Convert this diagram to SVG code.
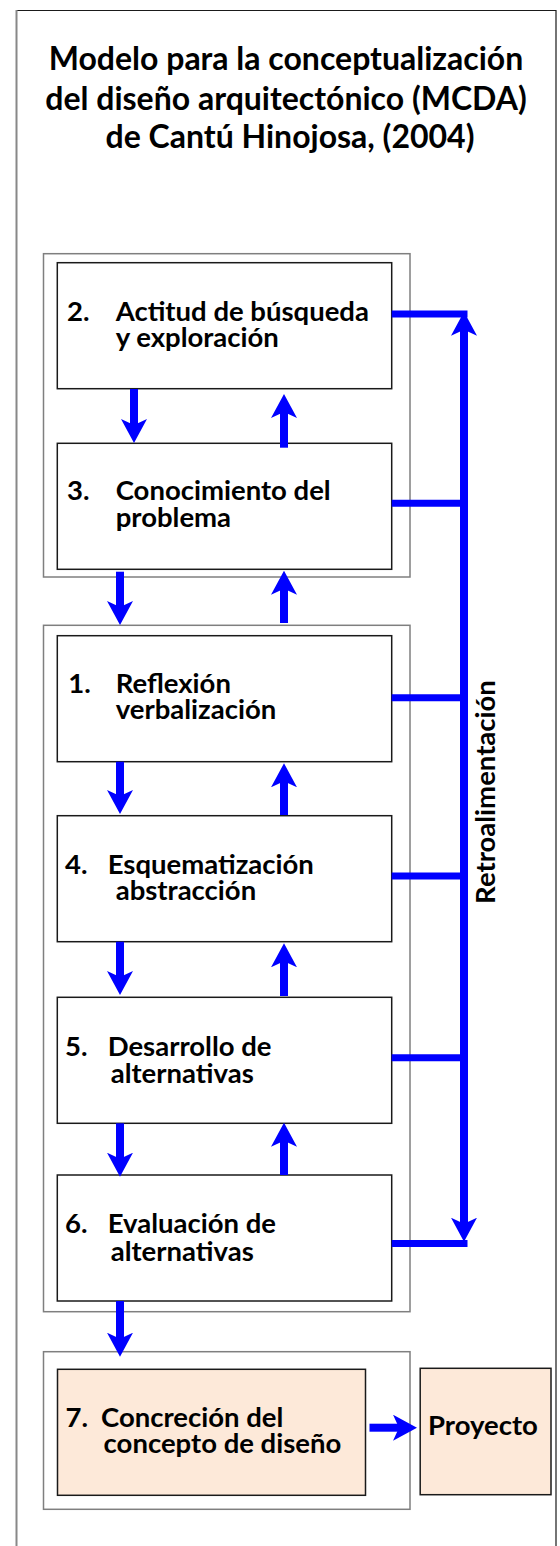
<svg xmlns="http://www.w3.org/2000/svg" width="560" height="1546" viewBox="0 0 560 1546">
<style>
text{font-family:Lato,"Open Sans","Liberation Sans",sans-serif;font-weight:bold;fill:#000}
.title{font-size:32px;text-anchor:middle}
.t{font-size:27.5px}
.grp{fill:none;stroke:#7f7f7f;stroke-width:1.5}
.box{fill:#fff;stroke:#1a1a1a;stroke-width:1.5}
.peach{fill:#fde9d9;stroke:#1a1a1a;stroke-width:1.5}
.arr{stroke:#0000ff;stroke-width:8;fill:none;marker-end:url(#ah)}
.br{stroke:#0000ff;stroke-width:7;fill:none}
</style>
<defs>
<marker id="ah" markerUnits="userSpaceOnUse" viewBox="0 0 24 26" markerWidth="24" markerHeight="26" refX="8" refY="13" orient="auto-start-reverse">
<path d="M0,0 L24,13 L0,26 L6,13 Z" fill="#0000ff"/>
</marker>
</defs>
<rect width="560" height="1546" fill="#fff"/>
<g id="frame">
<path d="M16.5,10.5 H556 V1546" fill="none" stroke="#1a1a1a" stroke-width="1.2"/>
<path d="M16.5,10 V1546" fill="none" stroke="#888" stroke-width="2"/>
</g>
<g id="title">
<text class="title"><tspan x="286" y="70">Modelo para la conceptualización</tspan><tspan x="286" y="109.5">del diseño arquitectónico (MCDA)</tspan><tspan x="290" y="148">de Cantú Hinojosa, (2004)</tspan></text>
</g>
<g id="groups">
<rect id="group-a" class="grp" x="43.5" y="253.7" width="366.5" height="323.3"/>
<rect id="group-b" class="grp" x="43.5" y="625.3" width="366.5" height="686.4"/>
<rect id="group-c" class="grp" x="43.5" y="1351.7" width="366.5" height="157.6"/>
</g>
<g id="node-2">
<rect class="box" x="57.3" y="262.7" width="334.4" height="126"/>
<text class="t"><tspan x="67" y="320.7">2.</tspan><tspan x="115.7" y="320.7">Actitud de búsqueda</tspan><tspan x="115.7" y="346.7">y exploración</tspan></text>
</g>
<g id="node-3">
<rect class="box" x="57.3" y="443.3" width="334.4" height="126"/>
<text class="t"><tspan x="67" y="500">3.</tspan><tspan x="115.7" y="500">Conocimiento del</tspan><tspan x="115.7" y="526.7">problema</tspan></text>
</g>
<g id="node-1">
<rect class="box" x="57.3" y="635.7" width="334.4" height="126"/>
<text class="t"><tspan x="68.3" y="692.7">1.</tspan><tspan x="115.7" y="692.7">Reflexión</tspan><tspan x="115.7" y="719.3">verbalización</tspan></text>
</g>
<g id="node-4">
<rect class="box" x="57.3" y="815.7" width="334.4" height="126"/>
<text class="t"><tspan x="65" y="874">4.</tspan><tspan x="107.7" y="874">Esquematización</tspan><tspan x="115.7" y="899.5">abstracción</tspan></text>
</g>
<g id="node-5">
<rect class="box" x="57.3" y="997.3" width="334.4" height="126"/>
<text class="t"><tspan x="65" y="1055.7">5.</tspan><tspan x="107.7" y="1055.7">Desarrollo de</tspan><tspan x="110.7" y="1082.7">alternativas</tspan></text>
</g>
<g id="node-6">
<rect class="box" x="57.3" y="1175" width="334.4" height="126"/>
<text class="t"><tspan x="65" y="1233.3">6.</tspan><tspan x="107.7" y="1233.3">Evaluación de</tspan><tspan x="110.7" y="1260.7">alternativas</tspan></text>
</g>
<g id="node-7">
<rect class="peach" x="57.5" y="1369.3" width="308" height="126"/>
<text class="t"><tspan x="65.5" y="1426.7">7.</tspan><tspan x="101" y="1426.7">Concreción del</tspan><tspan x="103.6" y="1453.3">concepto de diseño</tspan></text>
</g>
<g id="node-proyecto">
<rect class="peach" x="420.2" y="1368.3" width="130.8" height="126.4"/>
<text class="t" x="428" y="1435">Proyecto</text>
</g>
<g id="connectors">
<line class="arr" x1="134" y1="389" x2="134" y2="427"/>
<line class="arr" x1="284" y1="447.7" x2="284" y2="410"/>
<line class="arr" x1="120" y1="571.7" x2="120" y2="609"/>
<line class="arr" x1="284" y1="623" x2="284" y2="586.7"/>
<line class="arr" x1="120" y1="761.7" x2="120" y2="798"/>
<line class="arr" x1="284" y1="815" x2="284" y2="779.3"/>
<line class="arr" x1="120" y1="941.7" x2="120" y2="979"/>
<line class="arr" x1="284" y1="996" x2="284" y2="959.3"/>
<line class="arr" x1="120" y1="1123.3" x2="120" y2="1160.7"/>
<line class="arr" x1="284" y1="1175" x2="284" y2="1138.7"/>
<line class="arr" x1="120" y1="1301" x2="120" y2="1340.7"/>
<line class="arr" x1="369.5" y1="1427.7" x2="401" y2="1427.7"/>
<path class="br" d="M391.7,314 H467.5 M391.7,503.3 H464 M391.7,697.7 H464 M391.7,876 H464 M391.7,1057.7 H464 M391.7,1243.5 H467.5"/>
<line class="arr" x1="464" y1="327.7" x2="464" y2="1225.7" style="marker-start:url(#ah)"/>
<text class="t" transform="translate(495,792) rotate(-90)" text-anchor="middle" x="0" y="0">Retroalimentación</text>
</g>
</svg>
